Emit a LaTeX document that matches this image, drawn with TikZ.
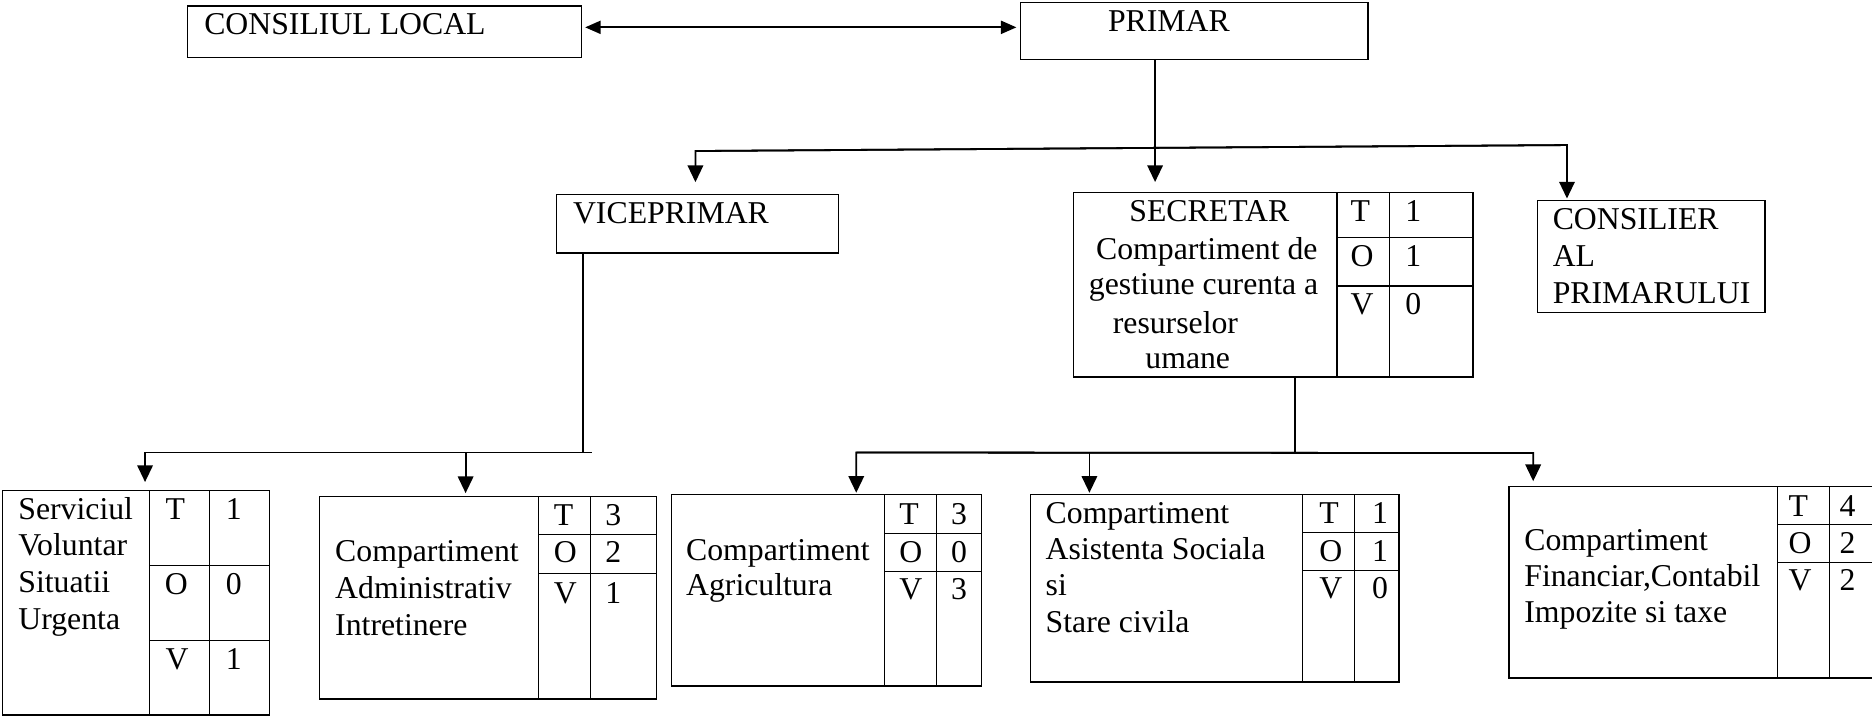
\documentclass[tikz,border=0pt]{standalone}
\usepackage{fontspec}
\setmainfont{Liberation Serif}
\usetikzlibrary{arrows.meta,fit}
\newcommand\tline[4]{\node[txt] (#1) at (#2,#3) {#4};}
% grid: d1, d2, r1, r2, top, bottom, right
\newcommand\tovgrid[7]{\draw[cell] (#1,#5) -- (#1,#6) (#2,#5) -- (#2,#6) (#1,#3) -- (#7,#3) (#1,#4) -- (#7,#4);}
\begin{document}
\begin{tikzpicture}[x=0.5pt,y=-0.5pt,
  font=\fontsize{13.3pt}{15.5pt}\selectfont,
  box/.style={draw,line width=0.55pt,inner sep=0pt,fit={#1}},
  cell/.style={line width=0.55pt},
  conn/.style={line width=0.75pt},
  arr/.style={conn,-{Triangle[length=7pt,width=6.5pt]}},
  darr/.style={conn,{Triangle[length=6.5pt,width=5.5pt]}-{Triangle[length=6.5pt,width=5.5pt]}},
  txt/.style={anchor=base west,inner sep=0pt}]
\useasboundingbox (0,0) rectangle (1568,600);

% ---------- boxes ----------
\node[box={(157.2,5) (487,48)}] (cl) {};
\node[box={(854.5,2.2) (1145.8,49.7)}] (primar) {};
\node[box={(466,162.7) (702.1,211.9)}] (vice) {};
\node[box={(899.3,161.4) (1233.9,315.7)}] (sec) {};
\node[box={(1287.7,167.8) (1478.4,261.6)}] (cons) {};
\node[box={(1.9,410.7) (225.8,598.8)}] (svc) {};
\node[box={(267.7,415.6) (549.6,585.4)}] (adm) {};
\node[box={(562.5,414.3) (822,574.5)}] (agr) {};
\node[box={(862.9,414.3) (1171.9,571.2)}] (asi) {};
\node[box={(1264,407.6) (1580,567.8)}] (fin) {};

% ---------- T/O/V grids ----------
\tovgrid{1119.9}{1163.7}{198.8}{239.5}{161.4}{315.7}{1233.9}
\tovgrid{125.3}{175.4}{473.5}{536.4}{410.7}{598.8}{225.8}
\tovgrid{450.9}{494.7}{447.7}{480.3}{415.6}{585.4}{549.6}
\tovgrid{740.7}{784.2}{447}{478.8}{414.3}{574.5}{822}
\tovgrid{1091.1}{1134.5}{445.8}{477.7}{414.3}{571.2}{1171.9}
\tovgrid{1488.8}{1532.1}{439.4}{471}{407.6}{567.8}{1580}

% ---------- texts ----------
\tline{tcl}{170.7}{29.3}{CONSILIUL LOCAL}
\tline{tpr}{927.7}{26.5}{PRIMAR}
\tline{tvi}{479.6}{187}{VICEPRIMAR}

\tline{ts1}{945.6}{185.7}{SECRETAR}
\tline{ts2}{917.7}{217}{Compartiment de}
\tline{ts3}{911.7}{247}{gestiune curenta a}
\tline{ts4}{931.7}{279}{resurselor}
\tline{ts5}{959}{308.5}{umane}
\tline{ts6}{1130.8}{185.7}{T}
\tline{ts7}{1176.7}{185.7}{1}
\tline{ts8}{1130.8}{223.3}{O}
\tline{ts9}{1176.7}{223.3}{1}
\tline{ts10}{1130.8}{263.8}{V}
\tline{ts11}{1176.7}{263.8}{0}

\tline{tc1}{1300.2}{192}{CONSILIER}
\tline{tc2}{1300.2}{223.3}{AL}
\tline{tc3}{1300.2}{254.6}{PRIMARULUI}

\tline{tv1}{15}{434.8}{Serviciul}
\tline{tv2}{15}{465.7}{Voluntar}
\tline{tv3}{15}{496.6}{Situatii}
\tline{tv4}{15}{527.3}{Urgenta}
\tline{tv5}{138.3}{434.8}{T}
\tline{tv6}{188.8}{434.8}{1}
\tline{tv7}{137.6}{498}{O}
\tline{tv8}{188.8}{498}{0}
\tline{tv9}{138.3}{560.8}{V}
\tline{tv10}{188.8}{560.8}{1}

\tline{ta1}{280.4}{470}{Compartiment}
\tline{ta2}{280.4}{501.5}{Administrativ}
\tline{ta3}{280.4}{532.4}{Intretinere}
\tline{ta4}{463.6}{440}{T}
\tline{ta5}{506.7}{440}{3}
\tline{ta6}{463.6}{471.4}{O}
\tline{ta7}{506.7}{471.4}{2}
\tline{ta8}{463.6}{505.9}{V}
\tline{ta9}{506.7}{505.9}{1}

\tline{tg1}{574.3}{469.6}{Compartiment}
\tline{tg2}{574.3}{499.2}{Agricultura}
\tline{tg3}{753}{438.9}{T}
\tline{tg4}{796.3}{438.9}{3}
\tline{tg5}{753}{471.3}{O}
\tline{tg6}{796.3}{471.3}{0}
\tline{tg7}{753}{502.5}{V}
\tline{tg8}{796.3}{502.5}{3}

\tline{tz1}{875.5}{438.3}{Compartiment}
\tline{tz2}{875.5}{469}{Asistenta Sociala}
\tline{tz3}{875.5}{499.2}{si}
\tline{tz4}{875.5}{529.9}{Stare civila}
\tline{tz5}{1104.8}{438.3}{T}
\tline{tz6}{1148.8}{438.3}{1}
\tline{tz7}{1104.8}{470.4}{O}
\tline{tz8}{1148.8}{470.4}{1}
\tline{tz9}{1104.8}{501.7}{V}
\tline{tz10}{1148.8}{501.7}{0}

\tline{tf1}{1276.4}{461.5}{Compartiment}
\tline{tf2}{1276.4}{491.4}{Financiar,Contabil}
\tline{tf3}{1276.4}{521.5}{Impozite si taxe}
\tline{tf4}{1497.8}{432.2}{T}
\tline{tf5}{1540.5}{432.2}{4}
\tline{tf6}{1497.8}{463.4}{O}
\tline{tf7}{1540.5}{463.4}{2}
\tline{tf8}{1497.8}{494.7}{V}
\tline{tf9}{1540.5}{494.7}{2}

% ---------- connectors ----------
\coordinate (ay) at (0,22.9);
\draw[darr,shorten <=1.3pt,shorten >=1.3pt] (cl.east |- ay) -- (primar.west |- ay);

\coordinate (px) at (967.5,0);
\draw[arr,shorten >=4.2pt] (primar.south -| px) -- (sec.north -| px);

\coordinate (hl) at (582.5,126.5);
\coordinate (hr) at (1312.5,121.5);
\draw[arr,shorten >=4.8pt] (hr) -- (hl) -- (hl |- vice.north);
\draw[arr,shorten >=0.5pt] (hl) -- (hr) -- (hr |- cons.north);

\coordinate (vb) at (488,379);
\coordinate (vl) at (121.5,379);
\coordinate (vr) at (495.8,379);
\coordinate (va) at (390,379);
\draw[conn] (vice.south -| vb) -- (vb);
\draw[arr,shorten >=3.2pt] (vr) -- (vl) -- (vl |- svc.north);
\draw[arr,shorten >=1pt] (va) -- (va |- adm.north);

\coordinate (sb) at (1084.6,379);
\coordinate (sl) at (717.2,379);
\coordinate (sr) at (1284.2,379.5);
\coordinate (sa) at (912.5,379);
\draw[conn] (sec.south -| sb) -- (sb);
\draw[arr,shorten >=0.5pt] (sr) -- (sl) -- (sl |- agr.north);
\draw[arr,shorten >=2pt] (sl) -- (sr) -- (sr |- fin.north);
\draw[arr,shorten >=0.5pt] (sa) -- (sa |- asi.north);
\end{tikzpicture}
\end{document}
